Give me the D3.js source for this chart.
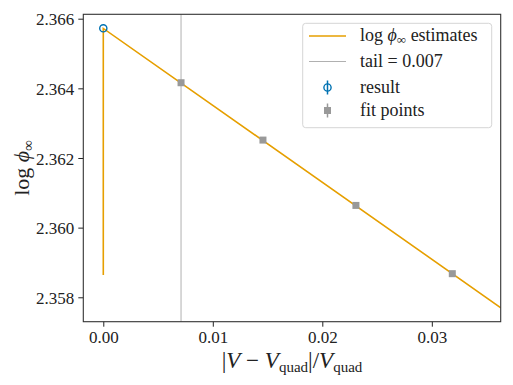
<!DOCTYPE html>
<html>
<head>
<meta charset="utf-8">
<script src="https://cdn.jsdelivr.net/npm/d3@7/dist/d3.min.js"></script>
<style>
  body { margin: 0; background: #fff; }
  svg { display: block; font-family: "Liberation Serif", "DejaVu Serif", serif; }
  .tick text { font-size: 17px; fill: #222; font-family: "Liberation Serif", "DejaVu Serif", serif; }
</style>
</head>
<body>
<svg id="chart" width="513" height="385"></svg>
<script>
// values
const estimateX = [0, 0, 0.0363];
const estimateY = [2.35864, 2.36572, 2.35770];
const fitX = [0.0071, 0.01458, 0.02307, 0.03187];
const fitY = [2.364161, 2.362514, 2.360638, 2.358678];
const resultX = [0];
const resultY = [2.365724];
const tail = 0.0071;
const xTicks = [0, 0.01, 0.02, 0.03];
const yTicks = [2.358, 2.36, 2.362, 2.364, 2.366];

const W = 513, H = 385;
const margin = { top: 14.3, right: 12.3, bottom: 63.3, left: 83.3 };
const orange = '#E69F00', blue = '#0072B2', grey = '#999999';

const svg = d3.select('#chart');
const x = d3.scaleLinear().domain([-0.001826, 0.03629]).range([margin.left, W - margin.right]);
const y = d3.scaleLinear().domain([2.3572989, 2.366126]).range([H - margin.bottom, margin.top]);

svg.append('clipPath').attr('id', 'clip').append('rect')
  .attr('x', margin.left).attr('y', margin.top)
  .attr('width', W - margin.left - margin.right).attr('height', H - margin.top - margin.bottom);

const plot = svg.append('g').attr('clip-path', 'url(#clip)');

// tail marker
plot.append('line')
  .attr('x1', x(tail)).attr('x2', x(tail))
  .attr('y1', margin.top).attr('y2', H - margin.bottom)
  .attr('stroke', '#b0b0b0').attr('stroke-width', 1);

const line = d3.line().x((d) => x(d[0])).y((d) => y(d[1]));
plot.append('path')
  .datum(d3.zip(estimateX, estimateY))
  .attr('d', line)
  .attr('fill', 'none').attr('stroke', orange).attr('stroke-width', 1.6);

plot.selectAll('rect.fit').data(d3.zip(fitX, fitY)).join('rect')
  .attr('class', 'fit')
  .attr('x', (d) => x(d[0]) - 3.5).attr('y', (d) => y(d[1]) - 3.5)
  .attr('width', 7).attr('height', 7)
  .attr('fill', grey);

plot.selectAll('circle.res').data(d3.zip(resultX, resultY)).join('circle')
  .attr('class', 'res')
  .attr('cx', (d) => x(d[0])).attr('cy', (d) => y(d[1])).attr('r', 3.6)
  .attr('fill', 'none').attr('stroke', blue).attr('stroke-width', 1.4);

// axes
const xAxis = svg.append('g')
  .attr('transform', `translate(0,${H - margin.bottom})`)
  .call(d3.axisBottom(x).tickValues(xTicks).tickFormat(d3.format('.2f')).tickSize(5).tickPadding(4));
const yAxis = svg.append('g')
  .attr('transform', `translate(${margin.left},0)`)
  .call(d3.axisLeft(y).tickValues(yTicks).tickFormat(d3.format('.3f')).tickSize(5).tickPadding(4));
[xAxis, yAxis].forEach((g) => {
  g.attr('font-family', null).attr('font-size', null);
  g.select('.domain').remove();
  g.selectAll('.tick line').attr('stroke', '#222').attr('stroke-width', 1);
});
yAxis.selectAll('.tick text').attr('dy', '0.36em');

// frame
svg.append('rect')
  .attr('x', margin.left).attr('y', margin.top)
  .attr('width', W - margin.left - margin.right).attr('height', H - margin.top - margin.bottom)
  .attr('fill', 'none').attr('stroke', '#333').attr('stroke-width', 1.1);

// axis labels
const xl = svg.append('text')
  .attr('x', 292).attr('y', 368).attr('text-anchor', 'middle')
  .attr('font-size', 23).attr('fill', '#222');
xl.append('tspan').text('|');
xl.append('tspan').attr('font-style', 'italic').text('V');
xl.append('tspan').text(' − ');
xl.append('tspan').attr('font-style', 'italic').text('V');
xl.append('tspan').attr('font-size', 15).attr('dy', 4).text('quad');
xl.append('tspan').attr('dy', -4).text('|/');
xl.append('tspan').attr('font-style', 'italic').text('V');
xl.append('tspan').attr('font-size', 15).attr('dy', 4).text('quad');

const yl = svg.append('text')
  .attr('transform', `translate(29,${(margin.top + H - margin.bottom) / 2}) rotate(-90)`)
  .attr('text-anchor', 'middle').attr('font-size', 22).attr('fill', '#222');
yl.append('tspan').text('log ');
yl.append('tspan').attr('font-style', 'italic').text('ϕ');
yl.append('tspan').attr('font-size', 15).attr('dy', 4).text('∞');

// legend
const lg = svg.append('g');
lg.append('rect')
  .attr('x', 302.7).attr('y', 23.3).attr('width', 189).attr('height', 104.4).attr('rx', 3)
  .attr('fill', 'rgba(255,255,255,0.85)').attr('stroke', '#d5d5d5').attr('stroke-width', 1);
const rows = [36, 61.5, 87.5, 110.5];
const labelX = 360;
lg.append('line').attr('x1', 309).attr('x2', 346).attr('y1', rows[0]).attr('y2', rows[0])
  .attr('stroke', orange).attr('stroke-width', 1.6);
lg.append('line').attr('x1', 309).attr('x2', 346).attr('y1', rows[1]).attr('y2', rows[1])
  .attr('stroke', '#b0b0b0').attr('stroke-width', 1);
lg.append('line').attr('x1', 327.5).attr('x2', 327.5).attr('y1', rows[2] - 7).attr('y2', rows[2] + 7)
  .attr('stroke', blue).attr('stroke-width', 1.5);
lg.append('circle').attr('cx', 327.5).attr('cy', rows[2]).attr('r', 3.6)
  .attr('fill', 'none').attr('stroke', blue).attr('stroke-width', 1.4);
lg.append('line').attr('x1', 327.5).attr('x2', 327.5).attr('y1', rows[3] - 7).attr('y2', rows[3] + 7)
  .attr('stroke', grey).attr('stroke-width', 1.5);
lg.append('rect').attr('x', 324).attr('y', rows[3] - 3.5).attr('width', 7).attr('height', 7).attr('fill', grey);

const t0 = lg.append('text').attr('x', labelX).attr('y', rows[0] + 5).attr('font-size', 18).attr('fill', '#222');
t0.append('tspan').text('log ');
t0.append('tspan').attr('font-style', 'italic').text('ϕ');
t0.append('tspan').attr('font-size', 13).attr('dy', 3).text('∞');
t0.append('tspan').attr('dy', -3).text(' estimates');
lg.append('text').attr('x', labelX).attr('y', rows[1] + 5).attr('font-size', 18).attr('fill', '#222').text('tail = 0.007');
lg.append('text').attr('x', labelX).attr('y', rows[2] + 5).attr('font-size', 18).attr('fill', '#222').text('result');
lg.append('text').attr('x', labelX).attr('y', rows[3] + 5).attr('font-size', 18).attr('fill', '#222').text('fit points');
</script>
</body>
</html>
